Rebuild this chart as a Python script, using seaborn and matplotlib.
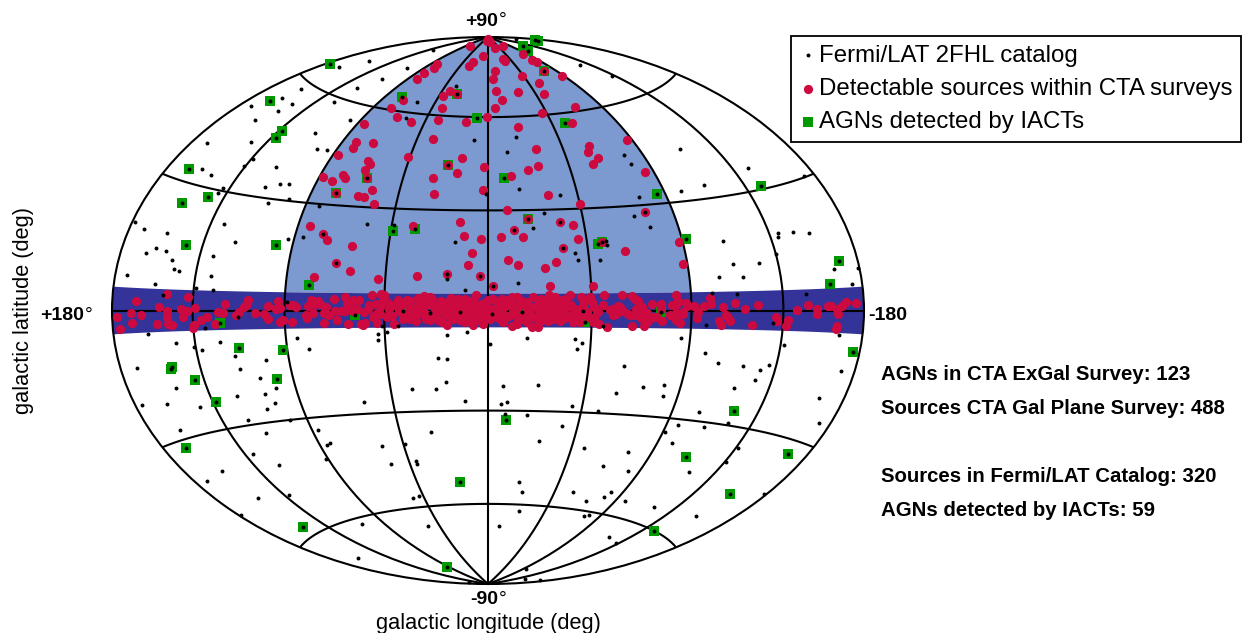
import numpy as np
import pandas as pd
import matplotlib
matplotlib.use("Agg")
import matplotlib.pyplot as plt
from matplotlib.ticker import NullFormatter
import seaborn as sns

# all positions are (galactic longitude, galactic latitude) in degrees
# longitude increases to the left, +180 is on the left edge

agn_iact = [
    (178, 65), (165, 52.6), (133, 47.8), (132, 45.5), (166, 32.8), (157, 25.4), (144, 28), (144, 15.9),
    (98, 17.7), (77, 33.4), (64, 38.6), (76, 64.7), (30, 67.8), (8, 59.5), (-119, 83.7), (-103, 81.9),
    (-171, 82.8), (-168, 82.3), (-75, 74.4), (-54, 56.8), (-8.6, 39.9), (22, 43.9), (-19, 27.4), (-86, 32.9),
    (-144, 30.9), (-92, 19.7), (-52, 20), (-50, 19.2), (44, 23.2), (34, 24.2), (79, 7), (-169, 11),
    (-161, 6.1), (-176, -8.8), (-122, -26.2), (-111, -40), (-168, -33.3), (-158, -45.7), (-144, -60.1), (-9, -32.8),
    (18, -52.4), (93, -81), (152, -57.4), (166, -31.8), (133, -22.9), (140, -16.9), (150, -13.4), (151, -13.9),
    (113, -9.9), (92, -10.7), (98, -18.5), (121, -3.1), (58, -1.4), (-1.7, -0.9), (-14.7, -0.3), (-41, 0),
    (-42, -3.4), (37, 0), (-76, -0.5),
]

# red sources of the extragalactic survey, above the plane
cta_exgal = [
    (78, 85.6), (15, 88.3), (12, 82.3), (28, 79.7), (31, 78.3), (83, 77.2), (78, 75.5), (81, 73.2),
    (80, 70.9), (38, 68.7), (30, 67.8), (41, 66.5), (73, 63.8), (37, 62.5), (77, 60.7), (67, 58.2),
    (55, 57.1), (36, 58.6), (16, 58.3), (1, 60.2), (86, 54.6), (82, 49), (81, 46.9), (71, 49.4),
    (87, 44.6), (35, 52), (46, 46.1), (15, 46.2), (68, 43.6), (-20, 88), (0, 89), (-64, 85.6),
    (-27, 85.5), (-83, 81.5), (-32, 80.8), (-32, 80), (-81, 78.8), (-84, 78), (-10, 76.4), (-6, 73.5),
    (-43, 73.8), (-75, 74.4), (-88, 71.8), (-56, 70.7), (-8, 69), (-29, 68.3), (-53, 67), (-12, 65.8),
    (-6, 63), (-69, 61.3), (-42, 60.8), (-59, 56.6), (-21, 56.6), (-87, 49.3), (-29, 48.9), (-61, 48.7),
    (-59, 46.9), (-63, 45), (66, 43), (67, 41.1), (88, 37.8), (82, 36.7), (78, 39), (76, 38),
    (64, 38.6), (77, 33.4), (59, 35.3), (65, 33), (62, 33.1), (56, 31.2), (22, 43.9), (17, 41.7),
    (29, 39.9), (2, 43.4), (2.4, 36.2), (27, 34.7), (84, 23.5), (77, 21.7), (74, 19.8), (62, 18.4),
    (68, 13.4), (61, 11.2), (77, 9.3), (48, 9), (35, 25.1), (13, 26.3), (11, 22.1), (3, 21.4),
    (7, 17.2), (9, 13.6), (18, 10.7), (3.4, 10.3), (31, 10), (-12, 40.5), (-22, 42.3), (-28, 43.7),
    (-59, 43.3), (-85, 39.3), (-30, 34.6), (-9, 30.2), (-45, 31.5), (-19, 27.4), (-34, 26.3), (-40, 25.3),
    (-76, 28.1), (-12, 24.1), (-6, 22), (-16, 22), (-41, 21.1), (-34, 18.5), (-52, 20), (-62, 17.2),
    (-88, 19), (-88, 12.7), (-9, 15.1), (-13, 13.4), (-30, 14.4), (-25, 12.4), (-2, 7.4), (-27, 7.3),
    (-46, 7),
]

# red sources of the galactic plane survey, one list per stretch of the band
cta_plane_outer_left = [
    (177, -1.3), (175.5, -3.9), (168.5, -0.5), (168.5, -2.8), (166, 2.1), (163, -1), (154, -3.2), (153, 0.9),
    (149, 3.9), (148.5, -0.2), (148.5, -1.5), (148, -3.2), (146, -3.4), (141, 0.4), (140, -1.5), (138, -0.2),
    (137.5, 3.3), (134, 0.6), (134.5, -3.7), (135, -4.3), (131, -2.3), (127.5, -1.7), (124, -3.4), (122, -0.4),
    (119.5, -0.7), (118.5, 1.6), (113, -1.1), (111.5, -0.3), (109.5, 0.9), (108, 1.6), (107.5, 2.9), (104, -0.7),
    (99.5, -0.9), (98, 1.2), (98, -2.4), (94, 0.5), (92, 0.7), (93, 2.7), (92, -3.1), (91, -2.5),
    (87.5, 1.4), (86, 1.6), (84.5, 0.9), (86.5, -3.1), (80, -1.3), (79.5, -2), (78, 2.8), (79, 1.3),
    (77, -0.6), (74.5, 2.8), (76, 1.7), (73.5, 1.7), (71, 0.9), (72, -0.8), (72, -3.5), (69.5, -1.2),
    (67.5, 3.3), (67, -0.2), (66, -2.7), (64, 0), (62.5, 3.8), (61, -3.8), (61.5, 1.9), (59, 2.9),
    (59.5, 1.4), (62.5, 0), (59, 0), (56, 2.9), (55.5, -4), (54.5, -3.9), (57, 0.5),
]
cta_plane_center = [
    (50.4, 4.4), (46.7, 4.7), (45.2, 4.6), (46.2, 2.4), (48.8, 1.9), (51.7, 1.5), (53.9, -0.5), (48.8, -1),
    (46.7, -1), (48.4, -3.7), (53.6, -3.7), (54.6, -4.1), (43.1, 0.5), (40.9, 1.5), (38.7, 2.4), (36.6, 1.9),
    (33.7, 2.9), (30.5, 3.7), (27.9, 4.4), (25.3, 4.1), (20.4, 2.7), (16.1, 3.7), (12.1, 2.9), (9.9, 3.4),
    (7.1, 2.9), (5, 4.6), (2.7, 1.9), (-2.3, 3.4), (-4.5, 2.4), (-10.2, 4.1), (-12.7, 4.1), (-19.3, 3.9),
    (-23.2, 2.1), (-26.3, 4.7), (-28.9, 3.9), (-35.7, 4.4), (-40.2, 3.9), (-44.3, 3.9), (-50.5, 4.6), (-49.8, 1.5),
    (-54.1, 0.5), (-55.6, -1), (-52, -4.7), (-48.4, -3.9), (-45.5, -3.4), (-46.2, -2.1), (-47.7, -0.5), (-41.2, -1),
    (-38.3, 0), (-36.9, -1), (-34, 1), (-31.1, 1.9), (-27.5, 0), (-25.3, -1.5), (-22.5, -0.5), (-19.6, 1),
    (-16.7, -1), (-13.8, 1.9), (-10.9, 0), (-8.1, 1.5), (-5.2, 0), (-2.3, 0.5), (0.6, -1), (2, -3.9),
    (6.3, -4.4), (7.8, -2.9), (12.1, -2.9), (14.3, -1.5), (17.9, -4.4), (18.6, -1), (21.5, -2.9), (25, -2.9),
    (27.9, -1), (30.8, -1), (33.7, -2.4), (36.6, -1), (40.9, -3.9), (41.6, -1.5), (38.7, 0), (33.7, 0.5),
    (30.8, 1), (26.5, 1.9), (22.9, 0.5), (20, 0.5), (16.4, 1), (13.5, 0.5), (9.2, 1), (4.9, 0),
    (-0.9, -2.4), (-6.6, -3.4), (-10.2, -4.7), (-12.4, -3.9), (-18.9, -4.9), (-21.7, -4.9), (-16.7, -3.4), (-23.2, -2.9),
    (-28.2, -2.4), (-32.5, -2.4), (-36.9, -3.4), (-39.7, -1.9), (-34, 3.4), (-27.5, 2.9), (-13.8, -1.9), (-3.7, -1.9),
    (35, 3), (32, -0.5), (29, 1.5), (27, -2.5), (24, 1.5), (23, -2), (19, 2), (18, 0.5),
    (15, -2.5), (15, 2), (11, -1.5), (11, 1), (8, 0.5), (6, -1.5), (3, -2), (3, 0.5),
    (1, 2.5), (-1, 0.5), (-3, -0.5), (-5, -2.5), (-7, 1), (-8, 3), (-9, -1.5), (-12, 0.5),
    (-15, 2.5), (-15, -2.5), (-18, -1), (-21, 1), (-21, -2.5), (-24, 0.5), (-26, 2), (-26, -3),
    (-30, -0.5), (-30, 1), (-32, 3), (-33, -1), (-36, 1.5), (-38, -2), (-41, 1.5), (-43, -0.5),
    (-44, -2), (-46, 1), (37, -2.5), (42, 1.5), (44, -2), (44, 2.5), (47, 1), (52, 0.5),
    (50, -2), (39, 3), (31, -3), (24, 3.5), (20, -3.5), (13, 3.5), (10, -3.5), (1, -0.5),
    (-6, 3.5), (-13, -3.2), (-23, 3.5), (-31, -3.2), (-40, -3.5), (-45, 2.5),
    (34, -0.8), (30, 2.8), (28, 0.2), (26, -1.2), (25, 3), (22, -0.5), (21, 1.5), (17, -1.5),
    (17, 2.8), (14, 0), (12, 1.8), (10, -0.3), (9, 2), (7, -1.8), (5, 1.8), (4, -2.8),
    (2, 1), (0, 3.2), (-2, -1.2), (-4, 1), (-6, -1), (-7, -2.4), (-10, 1.8), (-11, -1),
    (-13, 1), (-14, 3), (-17, 0.5), (-17, 2.5), (-20, -1.8), (-22, 2.5), (-24, -1.2), (-25, 3),
    (-28, 1), (-29, -1.5), (-31, 0.3), (-33, 2), (-35, -1.8), (-37, 0.8), (-40, 0.5), (-42, 3),
]
cta_plane_outer_right = [
    (-58.5, 4.4), (-63, 4), (-64.5, 3.3), (-65.6, 2.7), (-67.5, 0.9), (-72, 1.9), (-76, 1.7), (-76, 0.5),
    (-81, 1.4), (-83, 4.3), (-84, 2.6), (-83, 1.4), (-87.5, 2), (-88, 1.1), (-91, 1.3), (-96, 1.1),
    (-99, 1.8), (-99, 3.4), (-105, 0.9), (-111, 1.9), (-115.5, 0.3), (-122, 1.5), (-142, 0.2), (-148, 1.4),
    (-153, 0.3), (-153, -0.8), (-159, 1.1), (-160.5, 1.1), (-164, 0.4), (-167, 1.1), (-169.5, 1.8), (-175.5, 1.7),
    (-164.5, -0.7), (-164.5, -3.4), (-164, -4.2), (-137.5, -2.3), (-136.5, -3.9), (-132, -2.5), (-131, -1.5), (-119.5, -3.7),
    (-108.5, -2.8), (-108, -2.2), (-106.5, -1.3), (-104, -3.8), (-103, -2.8), (-93, -0.3), (-92.5, -2), (-86, -0.9),
    (-86, -0.3), (-83, -0.7), (-83, -2.5), (-85, -3.4), (-80, -1.2), (-76.5, -2.8), (-74, -1.7), (-72.5, -1.7),
    (-70, -3), (-69.5, -0.7), (-67.5, -1.2), (-67, -2), (-64.5, 0.5), (-64, -1.4), (-63, -4.5), (-62, -1.4),
    (-61, -1), (-57.5, 0.9), (-56.5, 1.4), (-57.5, 0), (-54.5, -1.4), (-59, 0), (-68.5, -4.5), (-53, 0.2),
    (-56, 0.2),
]

# 2FHL catalog dots that sit on a red source
fermi_on_red = [
    (77, 21.7), (68, 13.4), (18, 10.7), (3.4, 10.3), (-34, 26.3), (-12, 24.1), (-34, 18.5), (-76, 28.1), (-2, 7.4),
]
# 2FHL catalog dots on their own, north of the plane
fermi_north = [
    (159, 58.1), (161, 54.4), (149, 54.4), (151, 51.7), (172, 49.7), (158, 47.8), (111, 49.3), (102, 45.2),
    (145, 43), (170, 39.2), (134, 39.1), (136, 37), (117, 38.4), (159, 33.8), (151, 33.1), (139, 30.7),
    (140, 29.4), (116, 32.8), (109, 34.1), (104, 34.5), (100, 30.5), (110, 28.9), (83, 29.5), (128, 22),
    (178, 19), (171, 18.1), (157, 18), (86, 20.4), (93, 19.6), (119, 17.7), (160, 14.4), (154, 14),
    (165, 12.8), (149, 12), (128, 13.8), (147, 10), (144, 9.6), (173, 7.6), (156, 6.2), (127, 8.8),
    (134, 5.5), (125, 5.3), (131, 80.5), (157, 70.6), (166, 65.9), (109, 73.3), (113, 68.1), (122, 63.9),
    (123, 58.5), (60, 63.6), (60, 58), (97, 54.8), (95, 45.3), (34, 70.4), (9, 52.4), (-163, 85.6),
    (-124, 72.9), (-133, 67.2), (-18, 53.3), (-11, 48.4), (-79, 45.1), (-114, 44.2), (57, 25.2), (44, 25.2),
    (15, 20.5), (18, 9.4), (10, 6.2), (1, 35), (-80, 42), (-16, 36.4), (-36, 34.5), (-76, 32.5),
    (-99, 32.8), (-27, 28.9), (-70, 26.9), (-21, 24.6), (-76, 23.5), (-39, 17), (-40, 14.9), (-50, 14.7),
    (-13, 8), (-54, 20), (-54, 18.9), (-144, 35.7), (-173, 30.2), (-113, 33.8), (-140, 19), (-139, 18),
    (-148, 18.9), (-157, 18.1), (-110, 18.5), (-135, 14.1), (-125, 12), (-112, 12.1), (-104, 9), (-116, 8.8),
    (-165, 9.2), (-179, 9), (-174, 5.6), (-100, 4.7), (-112, 4.2), (-147, 3.9),
]
# 2FHL catalog dots inside or just around the plane band
fermi_plane = [
    (151, 3.7), (160, -5.4), (129, -4.3), (112, -1.6), (89, 2.4), (85, -7.6), (46, -4.5), (39, -4.6),
    (48, -6.8), (44, -6.2), (18, -7.1), (9, -6.5), (-17, -8), (-38, -8.3), (-50, -4.6), (25, -0.6),
    (12, -0.3), (-97, -3.9), (-130, -3.1), (-166, -5.4), (-86, -7.7),
]
# 2FHL catalog dots south of the plane
fermi_south_left = [
    (145, -7.9), (136, -9), (132, -9.9), (122, -8.1), (116, -11.9), (101, -13.4), (115, -15.2), (80, -10.8),
    (48, -8.7), (22, -14), (18, -14.5), (170, -12.7), (106, -17.9), (152, -18.4), (100, -21.1), (106, -22.3),
    (121, -22.1), (103, -24.9), (108, -26.3), (143, -23.6), (161, -21.6), (176, -20.6), (35, -23.1), (24, -23.2),
    (19, -21.3), (59, -26.5), (11, -27), (121, -28.6), (99, -30), (162, -27.7), (115, -32.6), (87, -33.5),
    (29, -36.3), (84, -37.5), (86, -38.2), (57, -39.9), (44, -39.8), (130, -37.3), (91, -42), (121, -41.5),
    (56, -45.6), (41, -45.1), (41, -46), (157, -39.2), (172, -39.7), (132, -49.2), (153, -47.5), (53, -56.8),
    (48, -56.2), (179, -48.7), (107, -61.9), (56, -66.6), (160, -68.8), (145, -87),
]
fermi_south_right = [
    (-1, -10), (-41, -9.5), (-39, -11.3), (-98, -11.5), (-105, -13.9), (-137, -8.5), (-61, -16), (-118, -14.3),
    (-127, -15.1), (-131, -13.7), (-126, -17.6), (-172, -13.2), (-7, -22.5), (-23, -22), (-72, -21.6), (-82, -20.9),
    (-117, -20.2), (-60, -23.8), (-83, -23.9), (-165, -19.7), (-6, -28), (-9, -27.2), (-40, -28.2), (-53, -29.4),
    (-104, -27.6), (-8, -31), (-19, -31.2), (-37, -34.4), (-96, -31.6), (-110, -31.2), (-122, -29.5), (-173, -24.9),
    (-91, -33.9), (-27, -39.2), (-52, -40.7), (-77, -40.9), (-98, -36.9), (-136, -35.1), (-136, -39.1), (-67, -45.8),
    (-83, -46.3), (-119, -43.6), (-20, -52.5), (-23, -55.9), (-57, -54.5), (-82, -53.1), (-80, -54.8), (-70, -57),
    (-96, -54.9), (-178, -42.4), (-120, -54.5), (-25, -62.3), (-78, -61.6), (-81, -60.9), (-155, -52.9), (-10, -67.7),
    (-119, -65.8), (-132, -66.4), (-93, -81.7), (-148, -84), (-172, -82),
]

legend_labels = ["Fermi/LAT 2FHL catalog", "Detectable sources within CTA surveys", "AGNs detected by IACTs"]
count_lines = [
    ("AGNs in CTA ExGal Survey: 123", 372),
    ("Sources CTA Gal Plane Survey: 488", 406),
    ("Sources in Fermi/LAT Catalog: 320", 474),
    ("AGNs detected by IACTs: 59", 508),
]

# survey footprints, degrees
exgal_lon_edge = 90
plane_lat_edge = 5

sns.set_theme(style="white")
plt.rcParams["font.family"] = ["Liberation Sans", "DejaVu Sans"]
plt.rcParams["text.color"] = "black"
plt.rcParams["axes.labelcolor"] = "black"


def to_frame(*point_lists):
    df = pd.DataFrame([p for pts in point_lists for p in pts], columns=["l", "b"])
    # map runs with longitude growing to the left
    df["x"] = -np.radians(df["l"])
    df["y"] = np.radians(df["b"])
    return df


W, H = 1242, 633
fig = plt.figure(figsize=(W / 100, H / 100), dpi=100)
ax = fig.add_axes([112 / W, 1 - 584 / H, 752 / W, 547 / H], projection="hammer")
ax.set_aspect("auto")

ax.set_longitude_grid(45)
ax.set_latitude_grid(30)
ax.set_longitude_grid_ends(90)
ax.xaxis.set_major_formatter(NullFormatter())
ax.yaxis.set_major_formatter(NullFormatter())
ax.set_axisbelow(False)
ax.grid(True, color="black", lw=1.5, ls="-")
ax.spines["geo"].set_linewidth(1.5)
ax.spines["geo"].set_edgecolor("black")

lon_e = np.radians(exgal_lon_edge)
lat_p = np.radians(plane_lat_edge)
ax.fill([-lon_e, lon_e, lon_e, -lon_e], [lat_p, lat_p, np.pi / 2, np.pi / 2], color="#7C99D0", lw=0, zorder=1)
ax.fill([-np.pi, np.pi, np.pi, -np.pi], [-lat_p, -lat_p, lat_p, lat_p], color="#333399", lw=0, zorder=1.1)

agn_df = to_frame(agn_iact)
red_df = to_frame(cta_exgal, cta_plane_outer_left, cta_plane_center, cta_plane_outer_right)
black_df = to_frame(agn_iact, fermi_on_red, fermi_north, fermi_plane, fermi_south_left, fermi_south_right)

sns.scatterplot(data=agn_df, x="x", y="y", ax=ax, marker="s", s=56, color="#009900", linewidth=0,
                zorder=3, clip_on=False, label=legend_labels[2])
sns.scatterplot(data=red_df, x="x", y="y", ax=ax, marker="o", s=44, color="#CC0A3F", linewidth=0,
                zorder=4, clip_on=False, label=legend_labels[1])
sns.scatterplot(data=black_df, x="x", y="y", ax=ax, marker="o", s=8, color="black", linewidth=0,
                zorder=5, clip_on=False, label=legend_labels[0])
ax.set_xlabel("")
ax.set_ylabel("")

handles, labels = ax.get_legend_handles_labels()
leg = ax.legend(handles[::-1], labels[::-1], loc="upper left", bbox_to_anchor=(791 / W, 1 - 36 / H),
                bbox_transform=fig.transFigure, fontsize=17.3, frameon=True, fancybox=False, framealpha=1,
                edgecolor="black", borderaxespad=0, borderpad=0.36, labelspacing=0.47, handletextpad=0.1,
                handlelength=0.7)
leg.get_frame().set_linewidth(1.3)


def place(x, y, s, **kw):
    fig.text(x / W, 1 - y / H, s, va="center", **kw)


# bold number with a thin degree sign next to it
place(498, 21, "+90", ha="right", fontsize=14, fontweight="bold")
place(499, 20, "\u00b0", ha="left", fontsize=14)
place(498, 600, "-90", ha="right", fontsize=14, fontweight="bold")
place(499, 599, "\u00b0", ha="left", fontsize=14)
place(84, 316, "+180", ha="right", fontsize=14, fontweight="bold")
place(85, 315, "\u00b0", ha="left", fontsize=14)
place(868, 316, "-180", ha="left", fontsize=14, fontweight="bold")
place(488, 623, "galactic longitude (deg)", ha="center", fontsize=15.7)
place(24, 310, "galactic latitude (deg)", ha="center", rotation=90, fontsize=15.7)
for text, y in count_lines:
    place(881, y + 2, text, ha="left", fontsize=14.7, fontweight="bold")

fig.savefig("out.png", dpi=100)
plt.close(fig)
